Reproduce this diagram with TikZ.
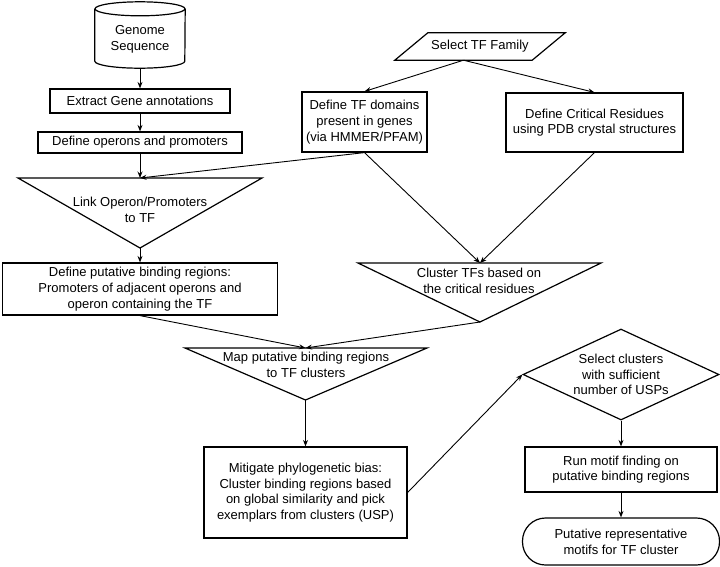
\documentclass[tikz,border=0pt]{standalone}
\usepackage{fontspec}
\setmainfont{Liberation Sans}
\usetikzlibrary{arrows.meta,shapes.geometric}

\tikzset{
  every node/.style={font=\fontsize{13}{15.7}\selectfont, align=center, inner sep=0pt},
  process/.style={rectangle, draw, line width=1.2pt},
  outline/.style={line width=1.2pt, line join=miter},
  flow/.style={->, >={Stealth[length=6.5pt,width=5pt]}, line width=0.9pt}
}

\begin{document}
\begin{tikzpicture}[x=1pt,y=-1pt]

  \useasboundingbox (0,0) rectangle (720,566);

  % left column
  \node[minimum width=90pt, minimum height=57pt] (genome) at (140,39.5) {Genome\\Sequence};
  \draw[outline] ([yshift=2pt]genome.north) ellipse [x radius=45pt, y radius=7pt];
  \draw[outline] ([yshift=2pt]genome.north west) -- ([yshift=7pt]genome.south west)
        arc [start angle=180, end angle=360, x radius=45pt, y radius=7pt]
        -- ([yshift=2pt]genome.north east);

  \node[process, minimum width=180pt, minimum height=24pt] (extract) at (140,101) {Extract Gene annotations};
  \node[process, minimum width=204pt, minimum height=21pt] (operons) at (140,142.5) {Define operons and promoters};

  \node (link) at (140,209.5) {Link Operon/Promoters\\to TF};
  \coordinate (link top) at (140,178);
  \coordinate (link apex) at (140,248);
  \draw[outline] (18,178) -- (262,178) -- (link apex) -- cycle;

  \node[process, minimum width=275pt, minimum height=52pt] (putative) at (140,289)
        {Define putative binding regions:\\Promoters of adjacent operons and\\operon containing the TF};

  % right column
  \node[minimum width=170pt, minimum height=27pt] (family) at (480,46.5) {Select TF Family};
  \draw[outline] (family.south west) -- ([xshift=33pt]family.north west)
        -- (family.north east) -- ([xshift=-33pt]family.south east) -- cycle;
  \coordinate (family out) at ([xshift=-16.5pt]family.south);

  \node[process, minimum width=125pt, minimum height=60pt] (domains) at (364.5,122)
        {Define TF domains\\present in genes\\(via HMMER/PFAM)};
  \node[process, minimum width=177pt, minimum height=59pt] (critical) at (594.5,122.5)
        {Define Critical Residues\\using PDB crystal structures};

  \node (cluster) at (479,281) {Cluster TFs based on\\the critical residues};
  \coordinate (cluster top) at (480,263);
  \coordinate (cluster apex) at (480,322);
  \draw[outline] (358,263) -- (601,263) -- (cluster apex) -- cycle;

  % bottom part
  \node (map) at (306,364.5) {Map putative binding regions\\to TF clusters};
  \coordinate (map top) at (305.5,348);
  \coordinate (map apex) at (305.5,400);
  \draw[outline] (185,348) -- (427,348) -- (map apex) -- cycle;

  \node[process, minimum width=203pt, minimum height=91pt] (mitigate) at (305.5,492.5)
        {Mitigate phylogenetic bias:\\Cluster binding regions based\\on global similarity and pick\\exemplars from clusters (USP)};

  \node[diamond, draw, line width=1.2pt, aspect=2.1, minimum width=196pt, minimum height=91pt] (select) at (621,374.5)
        {Select clusters\\with sufficient\\number of USPs};
  \node[process, minimum width=192pt, minimum height=45pt] (motif) at (621,469.5)
        {Run motif finding on\\putative binding regions};
  \node[process, rounded corners=23pt, minimum width=197pt, minimum height=47pt] (result) at (621,541.5)
        {Putative representative\\motifs for TF cluster};

  % connectors
  \draw[flow] (genome.south) -- (extract.north);
  \draw[flow] (extract.south) -- (operons.north);
  \draw[flow] (operons.south) -- (link top);
  \draw[flow] (domains.south) -- (link top);
  \draw[flow] (link apex) -- (putative.north);
  \draw[flow] (family out) -- (domains.north);
  \draw[flow] (family out) -- (critical.north);
  \draw[flow] (domains.south) -- (cluster top);
  \draw[flow] (critical.south) -- (cluster top);
  \draw[flow] (putative.south) -- (map top);
  \draw[flow] (cluster apex) -- (map top);
  \draw[flow] (map apex) -- (mitigate.north);
  \draw[flow] (mitigate.east) -- (select.west);
  \draw[flow] (select.south) -- (motif.north);
  \draw[flow] (motif.south) -- (result.north);

\end{tikzpicture}
\end{document}
